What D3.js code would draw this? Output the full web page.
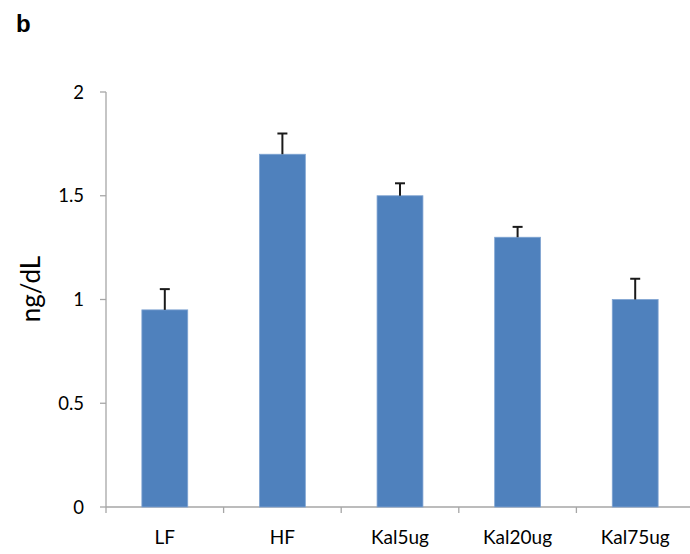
<!DOCTYPE html>
<html><head><meta charset="utf-8">
<script src="https://cdn.jsdelivr.net/npm/d3@7"></script>
<style>body{margin:0;background:#fff}svg{display:block}</style>
</head><body>
<script>
const categories = ["LF","HF","Kal5ug","Kal20ug","Kal75ug"];
const values = [0.95,1.70,1.50,1.30,1.00];
const errors = [0.10,0.10,0.06,0.05,0.10];
const yTicks = [0,0.5,1,1.5,2];
const yTickLabels = ["0","0.5","1","1.5","2"];

(function(){
const W=690,H=554;
const svg=d3.select("body").append("svg").attr("width",W).attr("height",H);
const mLeft=106, mRight=694, mTop=92, mBottom=507;
const x=d3.scaleBand().domain(categories).range([mLeft,mRight]).padding(0);
const y=d3.scaleLinear().domain([0,2]).range([mBottom,mTop]);
const font="Lato, 'Open Sans', sans-serif";
const axisColor="#a6a6a6";

// y axis
svg.append("line").attr("x1",mLeft).attr("x2",mLeft).attr("y1",y(2)).attr("y2",y(0))
  .attr("stroke",axisColor).attr("stroke-width",1.3);
svg.selectAll(".yt").data(yTicks).enter().append("line")
  .attr("x1",mLeft-6).attr("x2",mLeft).attr("y1",d=>y(d)).attr("y2",d=>y(d))
  .attr("stroke",axisColor).attr("stroke-width",1.3);
svg.selectAll(".yl").data(yTicks).enter().append("text")
  .attr("x",mLeft-22).attr("y",d=>y(d)).attr("dy","0.36em").attr("text-anchor","end")
  .attr("font-family",font).attr("font-size",18.5).attr("fill","#000")
  .text((d,i)=>yTickLabels[i]);

// x axis
svg.append("line").attr("x1",mLeft).attr("x2",mRight).attr("y1",mBottom).attr("y2",mBottom)
  .attr("stroke",axisColor).attr("stroke-width",1.3);
svg.selectAll(".xt").data(categories).enter().append("line")
  .attr("x1",d=>x(d)).attr("x2",d=>x(d)).attr("y1",mBottom).attr("y2",mBottom+6)
  .attr("stroke",axisColor).attr("stroke-width",1.3);
svg.selectAll(".xl").data(categories).enter().append("text")
  .attr("x",d=>x(d)+x.bandwidth()/2).attr("y",mBottom+37)
  .attr("text-anchor","middle").attr("font-family",font).attr("font-size",19)
  .text(d=>d);

// bars
const bw=x.bandwidth()*0.39;
svg.selectAll(".bar").data(categories).enter().append("rect")
  .attr("x",d=>x(d)+x.bandwidth()/2-bw/2).attr("width",bw)
  .attr("y",(d,i)=>y(values[i])).attr("height",(d,i)=>y(0)-y(values[i]))
  .attr("fill","#4f81bd").attr("stroke","#7fa4d2").attr("stroke-width",0.8);

// error bars
const g=svg.append("g").attr("stroke","#1a1a1a").attr("stroke-width",2);
categories.forEach((c,i)=>{
  const cx=x(c)+x.bandwidth()/2;
  g.append("line").attr("x1",cx).attr("x2",cx).attr("y1",y(values[i])).attr("y2",y(values[i]+errors[i]));
  g.append("line").attr("x1",cx-5).attr("x2",cx+5).attr("y1",y(values[i]+errors[i])).attr("y2",y(values[i]+errors[i]));
});

// y label
svg.append("text").attr("transform",`translate(40,289) rotate(-90)`)
  .attr("text-anchor","middle").attr("font-family",font).attr("font-size",26).text("ng/dL");

// panel letter
svg.append("text").attr("x",16).attr("y",32).attr("font-family","Arial, 'Liberation Sans', sans-serif")
  .attr("font-weight","bold").attr("font-size",24).text("b");
})();
</script>
</body></html>
